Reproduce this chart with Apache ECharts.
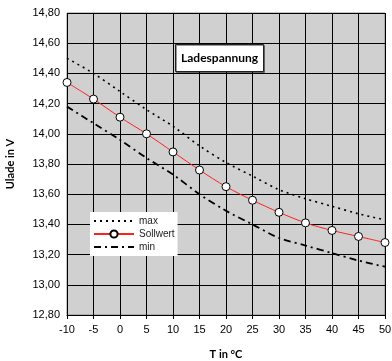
<!DOCTYPE html>
<html><head><meta charset="utf-8">
<script src="https://cdn.jsdelivr.net/npm/echarts@6/dist/echarts.min.js"></script>
<style>html,body{margin:0;padding:0;background:#fff}#c{width:392px;height:361px}</style>
</head><body><div id="c"></div>
<script>
const temps = [-10,-5,0,5,10,15,20,25,30,35,40,45,50];
const maxVals  = [14.50,14.40,14.28,14.16,14.05,13.92,13.81,13.72,13.63,13.57,13.52,13.47,13.43];
const sollVals = [14.34,14.23,14.11,14.00,13.88,13.76,13.65,13.56,13.48,13.41,13.36,13.32,13.28];
const minVals  = [14.18,14.07,13.96,13.84,13.73,13.60,13.49,13.40,13.31,13.26,13.21,13.16,13.12];
const pair = v => temps.map((t,i)=>[t,v[i]]);
const chart = echarts.init(document.getElementById('c'));
const axisFont = {fontFamily:'Liberation Sans', fontSize:11, color:'#000'};
chart.setOption({
  animation:false,
  title:{text:'Ladespannung', left:175, top:44, backgroundColor:'#fff', borderColor:'#222', borderWidth:1,
    padding:[8,6,8,6], textStyle:{fontFamily:'Lato', fontWeight:'bold', fontSize:12, color:'#000'},
    shadowColor:'rgba(0,0,0,0.4)', shadowOffsetX:1, shadowOffsetY:1},
  legend:{left:90, top:212, orient:'vertical', backgroundColor:'#fff', padding:[4,3,4,3], itemGap:3,
    itemWidth:40, itemHeight:9, textStyle:{fontFamily:'Liberation Sans', fontSize:10, color:'#222'},
    data:[{name:'max', itemStyle:{opacity:0}},{name:'Sollwert'},{name:'min', itemStyle:{opacity:0}}]},
  grid:{left:67, right:7, top:13, bottom:46, containLabel:false, outerBoundsMode:'none',
    show:true, backgroundColor:'#d0d0d0', borderColor:'#888', borderWidth:1},
  xAxis:{type:'value', min:-10, max:50, interval:5, name:'T in °C', nameLocation:'middle', nameGap:34,
    nameTextStyle:{fontFamily:'Lato', fontWeight:'bold', fontSize:11, color:'#000'},
    axisLine:{show:true, onZero:false, lineStyle:{color:'#000'}},
    axisTick:{show:true, length:4, lineStyle:{color:'#000'}},
    axisLabel:Object.assign({margin:9}, axisFont),
    splitLine:{show:true, lineStyle:{color:'#000', width:1}}},
  yAxis:{type:'value', min:12.8, max:14.8, interval:0.2, name:'Ulade in V', nameLocation:'middle', nameGap:51,
    nameTextStyle:{fontFamily:'Lato', fontWeight:'bold', fontSize:11, color:'#000'},
    axisLine:{show:true, lineStyle:{color:'#000'}},
    axisTick:{show:true, length:4, lineStyle:{color:'#000'}},
    axisLabel:Object.assign({margin:7, formatter:v=>v.toFixed(2).replace('.',',')}, axisFont),
    splitLine:{show:true, lineStyle:{color:'#000', width:1}}},
  series:[
    {name:'max', type:'line', data:pair(maxVals), smooth:0.3, symbol:'none',
      lineStyle:{color:'#000', width:1.6, type:[2,4]}, itemStyle:{color:'#000'}},
    {name:'Sollwert', type:'line', data:pair(sollVals), smooth:0.3, symbol:'circle', symbolSize:8,
      lineStyle:{color:'#ff2020', width:1}, itemStyle:{color:'#fff', borderColor:'#000', borderWidth:1}},
    {name:'min', type:'line', data:pair(minVals), smooth:0.3, symbol:'none',
      lineStyle:{color:'#000', width:1.8, type:[7,4,2,4]}, itemStyle:{color:'#000'}}
  ]
});
</script></body></html>
